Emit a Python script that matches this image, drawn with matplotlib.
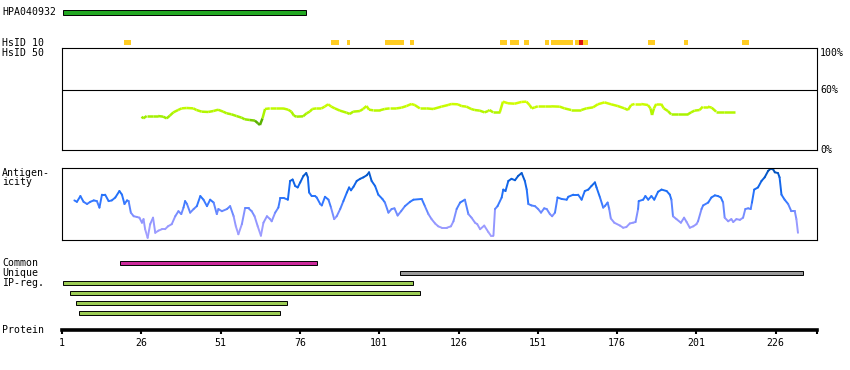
import numpy as np
import matplotlib
matplotlib.use("Agg")
import matplotlib.pyplot as plt
from matplotlib.collections import LineCollection
from matplotlib.colors import LinearSegmentedColormap, Normalize

# ---- data (residue positions) ----
protein_length = 239
tick_residues = [1, 26, 51, 76, 101, 126, 151, 176, 201, 226]

hpa_start, hpa_end = 1.4, 77.8

# HsID 10 hits: (start, end, kind)
hsid10_start = [20.5, 85.8, 90.7, 102.9, 110.7, 139.2, 142.1, 146.6, 153.4, 155.2, 162.8, 163.9, 165.2, 185.8, 197.2, 215.2]
hsid10_end = [22.7, 88.3, 91.8, 108.9, 111.9, 141.2, 145.2, 148.1, 154.6, 162.2, 163.9, 165.2, 166.9, 187.9, 198.4, 217.5]
hsid10_red = [False] * 11 + [True] + [False] * 4

# HsID 50 identity (%)
hsid50_res = [26.1, 26.6, 27.7, 29.8, 31.3, 32.9, 34.0, 35.0, 36.1, 37.6, 38.7, 40.3, 42.4, 43.4,
              45.0, 47.1, 48.7, 50.2, 51.8, 52.9, 54.4, 56.0, 57.6, 58.6, 60.2, 61.8, 62.8, 63.4,
              64.2, 65.0, 66.5, 68.6, 70.7, 72.3, 73.3, 74.1, 74.9, 77.0, 78.1, 79.1, 79.9, 81.2,
              82.8, 83.8, 84.9, 85.9, 87.0, 88.6, 90.7, 91.7, 92.8, 94.9, 95.9, 97.0, 97.8, 99.1,
              101.2, 102.7, 104.3, 106.4, 108.0, 109.6, 111.1, 112.2, 113.8, 115.9, 118.0, 120.6,
              122.7, 123.7, 125.8, 126.9, 128.5, 130.0, 131.1, 132.7, 134.2, 135.3, 135.8, 136.9,
              139.0, 140.0, 141.6, 143.7, 145.8, 147.4, 148.4, 149.1, 150.0, 151.0, 153.1, 155.2,
              157.9, 159.4, 161.5, 164.7, 166.3, 168.4, 169.9, 172.0, 174.1, 176.2, 178.3, 179.4,
              180.4, 181.5, 183.6, 185.7, 186.5, 187.0, 187.6, 188.3, 189.9, 190.7, 192.0, 193.0,
              195.1, 198.3, 199.3, 200.4, 202.0, 203.0, 204.6, 205.8, 207.2, 209.8, 213.0]
hsid50_pct = [32.7, 31.0, 33.3, 33.3, 33.3, 32.7, 31.0, 33.7, 36.9, 39.2, 40.8, 41.2, 40.8, 39.2,
              37.6, 37.3, 38.2, 39.5, 37.6, 36.0, 35.0, 33.3, 31.7, 30.1, 29.4, 28.8, 26.1, 24.5,
              31.0, 40.2, 40.8, 40.8, 40.8, 39.5, 37.6, 33.7, 32.7, 33.0, 36.0, 37.6, 40.2, 40.8,
              40.8, 42.5, 44.8, 42.5, 40.8, 38.6, 36.6, 35.3, 37.6, 38.2, 40.2, 43.1, 39.5, 38.9,
              38.9, 40.2, 40.8, 40.8, 41.5, 43.1, 45.1, 44.1, 40.8, 40.8, 40.2, 42.5, 44.1, 45.1,
              44.8, 43.1, 42.5, 40.2, 39.2, 38.6, 36.9, 38.2, 39.2, 36.9, 36.9, 47.4, 45.8, 45.4,
              47.1, 47.4, 44.1, 40.8, 41.8, 42.8, 42.8, 42.8, 42.5, 40.8, 39.2, 39.2, 40.8, 41.8,
              44.8, 46.7, 44.8, 43.1, 40.8, 39.2, 44.1, 45.1, 45.1, 44.1, 40.8, 34.3, 40.8, 45.1,
              45.1, 40.8, 38.2, 35.0, 35.0, 35.0, 36.9, 38.6, 39.2, 42.5, 42.5, 41.5, 37.6, 37.6,
              37.6]

# Antigenicity (0 = low, 1 = high)
antigen_res = [4.9, 5.7, 6.8, 7.8, 8.9, 9.9, 11.0, 12.0, 12.8, 13.6, 14.6, 15.7, 16.7, 17.8, 19.1,
               19.9, 20.7, 21.5, 22.0, 22.7, 23.6, 24.6, 25.4, 26.2, 26.7, 27.2, 28.0, 28.8, 29.7,
               30.4, 31.4, 32.5, 33.5, 34.4, 35.6, 36.7, 37.7, 38.6, 39.3, 39.8, 40.4, 41.4, 42.5,
               43.5, 44.6, 45.6, 46.7, 47.7, 48.8, 49.8, 50.3, 51.4, 53.0, 54.0, 55.1, 55.8, 56.6,
               57.7, 58.7, 59.8, 60.8, 61.7, 62.7, 63.7, 64.5, 65.6, 66.6, 67.1, 68.2, 69.2, 69.8,
               71.1, 72.2, 72.9, 73.7, 74.5, 75.3, 76.1, 77.1, 78.0, 78.5, 78.9, 79.7, 80.8, 81.3,
               82.4, 82.9, 83.9, 85.0, 85.8, 86.8, 87.6, 88.7, 89.7, 90.8, 91.5, 92.1, 92.9, 93.9,
               95.0, 96.0, 97.1, 97.8, 98.6, 99.7, 100.7, 102.0, 102.8, 103.9, 104.9, 105.8, 106.8,
               107.9, 109.1, 110.7, 111.8, 114.4, 115.4, 116.5, 117.5, 118.6, 119.6, 120.7, 122.3,
               123.6, 124.4, 125.4, 126.5, 128.0, 129.1, 130.1, 131.2, 131.9, 132.8, 134.1, 135.4,
               136.2, 137.0, 137.5, 138.3, 139.6, 140.1, 140.8, 141.7, 142.7, 143.8, 144.8, 145.9,
               146.9, 147.5, 148.0, 149.0, 150.1, 151.1, 152.0, 153.0, 153.8, 154.8, 155.5, 156.4,
               157.2, 158.5, 160.1, 160.6, 162.2, 163.7, 164.8, 165.8, 166.9, 167.9, 169.0, 169.5,
               170.6, 171.6, 172.1, 173.0, 173.5, 174.0, 175.1, 176.9, 177.9, 178.9, 180.0, 181.0,
               181.8, 182.6, 182.8, 184.2, 184.9, 185.8, 186.8, 187.7, 188.9, 190.0, 191.6, 192.6,
               193.1, 193.6, 194.7, 196.1, 197.1, 197.9, 198.9, 200.0, 201.0, 201.5, 202.6, 203.1,
               204.7, 205.7, 206.8, 207.8, 208.7, 209.4, 209.9, 211.0, 212.0, 212.6, 213.6, 214.7,
               215.7, 216.4, 217.3, 218.1, 218.5, 219.2, 220.4, 221.5, 222.5, 223.6, 224.4, 225.2,
               225.7, 226.7, 227.2, 227.8, 228.8, 229.9, 230.9, 232.0, 232.5, 233.0]
antigen_val = [0.55, 0.53, 0.61, 0.53, 0.50, 0.53, 0.55, 0.54, 0.45, 0.63, 0.63, 0.54, 0.55, 0.59, 0.68,
               0.63, 0.50, 0.55, 0.54, 0.38, 0.33, 0.32, 0.31, 0.24, 0.29, 0.15, 0.03, 0.22, 0.31,
               0.10, 0.13, 0.15, 0.15, 0.19, 0.22, 0.33, 0.40, 0.36, 0.45, 0.54, 0.50, 0.38, 0.43,
               0.47, 0.61, 0.56, 0.47, 0.56, 0.52, 0.36, 0.43, 0.40, 0.43, 0.47, 0.33, 0.19, 0.08,
               0.22, 0.44, 0.44, 0.40, 0.33, 0.19, 0.06, 0.24, 0.33, 0.29, 0.26, 0.38, 0.45, 0.58,
               0.58, 0.56, 0.82, 0.84, 0.75, 0.73, 0.80, 0.89, 0.93, 0.87, 0.66, 0.61, 0.61, 0.59,
               0.50, 0.48, 0.60, 0.56, 0.45, 0.29, 0.33, 0.43, 0.54, 0.66, 0.73, 0.69, 0.74, 0.82,
               0.85, 0.87, 0.90, 0.94, 0.82, 0.75, 0.63, 0.57, 0.52, 0.38, 0.43, 0.44, 0.34,
               0.40, 0.47, 0.53, 0.56, 0.57, 0.47, 0.36, 0.29, 0.23, 0.19, 0.17, 0.17,
               0.19, 0.26, 0.43, 0.52, 0.56, 0.36, 0.31, 0.24, 0.22, 0.15, 0.20, 0.11,
               0.06, 0.06, 0.43, 0.47, 0.59, 0.70, 0.68, 0.82, 0.85, 0.83, 0.89, 0.93,
               0.82, 0.70, 0.50, 0.48, 0.47, 0.43, 0.38, 0.44, 0.43, 0.36, 0.33, 0.38,
               0.59, 0.57, 0.56, 0.60, 0.63, 0.63, 0.56, 0.68, 0.70, 0.75, 0.80, 0.73,
               0.59, 0.45, 0.47, 0.52, 0.43, 0.30, 0.24, 0.20, 0.17, 0.18, 0.23, 0.24,
               0.25, 0.43, 0.54, 0.56, 0.61, 0.56, 0.61, 0.56, 0.67, 0.70, 0.68, 0.63,
               0.56, 0.33, 0.29, 0.24, 0.31, 0.25, 0.17, 0.19, 0.22, 0.26, 0.43, 0.48,
               0.52, 0.59, 0.62, 0.61, 0.59, 0.52, 0.31, 0.26, 0.29, 0.25, 0.29, 0.28,
               0.31, 0.43, 0.44, 0.43, 0.52, 0.70, 0.73, 0.82, 0.87, 0.96, 0.99, 0.98,
               0.94, 0.93, 0.87, 0.63, 0.56, 0.50, 0.40, 0.40, 0.29, 0.10]

common_start, common_end = 19.4, 81.5
unique_start, unique_end = 107.6, 234.6
ipreg_start = [1.4, 3.6, 5.5, 6.4]
ipreg_end = [111.6, 113.7, 71.8, 69.6]

# ---- layout (pixels of an 850x370 canvas) ----
W, H = 850, 370
X0, X1 = 62, 817
FONT = dict(family="DejaVu Sans Mono", fontsize=7.1)

fig = plt.figure(figsize=(W / 100, H / 100), dpi=100)


def fig_rect(left, top, right, bottom):
    return [left / W, 1 - bottom / H, (right - left) / W, (bottom - top) / H]


def left_label(text, ypx):
    fig.text(2 / W, 1 - ypx / H, text, ha="left", va="center", **FONT)


# tracks axis: y in canvas pixels
ax = fig.add_axes(fig_rect(X0, 0, X1, H))
ax.set_xlim(1, protein_length)
ax.set_ylim(H, 0)
ax.axis("off")

bar_kw = dict(edgecolor="black", linewidth=0.7)
ax.barh(12.3, hpa_end - hpa_start, left=hpa_start, height=5.2, color="#22a822", **bar_kw)

for s, e, red in zip(hsid10_start, hsid10_end, hsid10_red):
    ax.barh(42.3, e - s, left=s, height=4.8, color="#dd1111" if red else "#ffcc22", linewidth=0)

ax.barh(262.7, common_end - common_start, left=common_start, height=4.2, color="#cc2a9c", **bar_kw)
ax.barh(272.7, unique_end - unique_start, left=unique_start, height=4.2, color="#9a9a9a", **bar_kw)
for i, (s, e) in enumerate(zip(ipreg_start, ipreg_end)):
    ax.barh(282.7 + 10 * i, e - s, left=s, height=4.2, color="#9ccc55", **bar_kw)

# HsID 50 panel
ax_id = fig.add_axes(fig_rect(X0, 48, X1, 150))
ax_id.set_xlim(1, protein_length)
ax_id.set_ylim(0, 100)
ax_id.set_xticks([])
ax_id.set_yticks([])
for sp in ax_id.spines.values():
    sp.set_linewidth(0.8)
ax_id.axhline(58.8, color="black", linewidth=0.8)

id_cmap = LinearSegmentedColormap.from_list(
    "ident", [(0.0, "#4a9a00"), (0.3, "#5cb400"), (0.35, "#96ea00"),
              (0.55, "#aaf400"), (0.75, "#c0fa00"), (1.0, "#d6ff00")])
pts = np.column_stack([hsid50_res, hsid50_pct])
segs = np.stack([pts[:-1], pts[1:]], axis=1)
lc = LineCollection(segs, cmap=id_cmap, norm=Normalize(20, 48), linewidths=1.8, capstyle="butt")
lc.set_array((pts[:-1, 1] + pts[1:, 1]) / 2)
ax_id.add_collection(lc)

tx = 1 + 3 / (X1 - X0)
ax_id.text(tx, 1.0, "100%", transform=ax_id.transAxes, ha="left", va="top", **FONT)
ax_id.text(tx, 0.588, "60%", transform=ax_id.transAxes, ha="left", va="center", **FONT)
ax_id.text(tx, 0.0, "0%", transform=ax_id.transAxes, ha="left", va="center", **FONT)

# Antigenicity panel
ax_ag = fig.add_axes(fig_rect(X0, 168, X1, 240))
ax_ag.set_xlim(1, protein_length)
ax_ag.set_ylim(0, 1)
ax_ag.set_xticks([])
ax_ag.set_yticks([])
for sp in ax_ag.spines.values():
    sp.set_linewidth(0.8)

ag_cmap = LinearSegmentedColormap.from_list(
    "antigen", [(0.0, "#aaa4ff"), (0.3, "#8e94ff"), (0.45, "#5a84ff"),
                (0.55, "#2e76ff"), (0.7, "#1a6cf2"), (0.85, "#0a5edc"), (1.0, "#004fae")])
pts = np.column_stack([antigen_res, antigen_val])
segs = np.stack([pts[:-1], pts[1:]], axis=1)
lc = LineCollection(segs, cmap=ag_cmap, norm=Normalize(0, 1), linewidths=1.4, capstyle="round")
lc.set_array((pts[:-1, 1] + pts[1:, 1]) / 2)
ax_ag.add_collection(lc)

# Protein scale
ax_p = fig.add_axes(fig_rect(X0, 329, X1, 330))
ax_p.set_xlim(1, protein_length)
ax_p.set_yticks([])
for name in ("top", "left", "right"):
    ax_p.spines[name].set_visible(False)
ax_p.spines["bottom"].set_linewidth(2.6)
ax_p.set_xticks(tick_residues + [protein_length])
ax_p.set_xticklabels([str(t) for t in tick_residues] + [""], **FONT)
ax_p.tick_params(axis="x", direction="out", length=2.6, width=1.5, pad=3.2)
ax_p.patch.set_visible(False)

left_label("HPA040932", 12)
left_label("HsID 10", 42.5)
left_label("HsID 50", 52.5)
left_label("Antigen-", 172.5)
left_label("icity", 182.5)
left_label("Common", 262.5)
left_label("Unique", 272.5)
left_label("IP-reg.", 282.5)
left_label("Protein", 330)

fig.savefig("out.png", dpi=100)
